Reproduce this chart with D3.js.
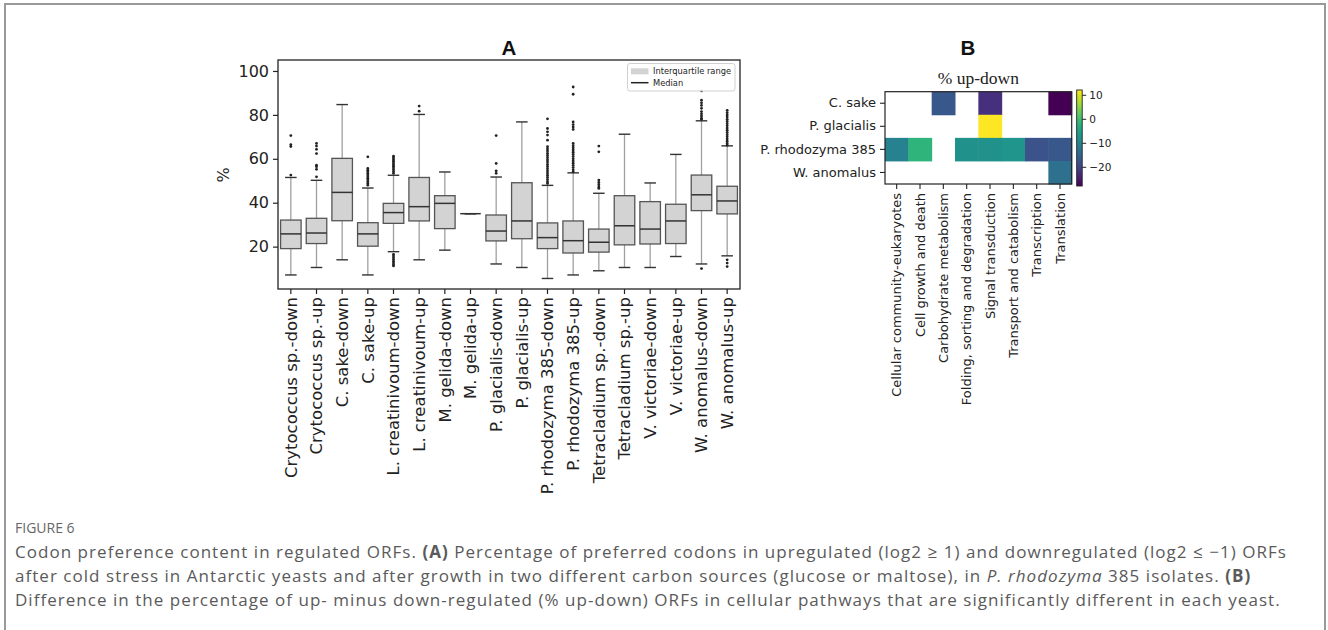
<!DOCTYPE html>
<html><head><meta charset="utf-8">
<script src="https://cdn.jsdelivr.net/npm/d3@7"></script>
<style>body{margin:0;background:#fff}svg{display:block}</style>
</head><body>
<svg id="chart" width="1328" height="630"></svg>
<script>
// ---------- Panel A data ----------
const categories = ["Crytococcus sp.-down","Crytococcus sp.-up","C. sake-down","C. sake-up",
 "L. creatinivoum-down","L. creatinivoum-up","M. gelida-down","M. gelida-up",
 "P. glacialis-down","P. glacialis-up","P. rhodozyma 385-down","P. rhodozyma 385-up",
 "Tetracladium sp.-down","Tetracladium sp.-up","V. victoriae-down","V. victoriae-up",
 "W. anomalus-down","W. anomalus-up"];
const q1Values     = [19.1,21.4,31.8,20.2,30.6,31.7,28.2,35,22.6,23.6,19.1,17.1,17.5,20.8,21.2,21.4,36.4,34.9];
const medianValues = [25.8,26.2,44.7,25.8,35.5,38.2,39.7,35,27.1,31.7,24.1,22.7,22.0,29.5,28.0,31.7,43.6,40.8];
const q3Values     = [32.1,32.9,60.2,30.9,39.7,51.5,43.2,35,34.4,49.1,30.8,31.7,28.0,43.2,40.5,39.3,52.6,47.5];
const whiskerLow   = [7.1,10.5,14.0,7.1,17.7,14.0,18.4,35,12.1,10.5,5.5,7.1,9.0,10.5,10.5,15.5,12.1,15.8];
const whiskerHigh  = [51.5,50.2,84.7,46.7,52.5,80.2,54.0,35,51.7,76.8,47.9,53.6,44.3,71.2,49.0,62.0,77.3,65.9];
const outliers = [
 [70.6,66.5,65.6,52.6],
 [67,65.8,64.3,62.4,57.1,56.4,55.2,51.8],
 [],
 [60.9,55.6,54.8,54.1,53.3,52.6,51.8,51.1,50.3,49.5,48.8,48.0],
 [61.2,60.4,59.6,58.9,58.1,57.3,56.6,55.8,55.0,54.2,53.4,16.5,15.7,14.9,14.1,13.3,12.5,11.7,11.2],
 [84.0,81.7],
 [],
 [],
 [70.6,57.9,54.5,53.4],
 [],
 [78.2,73.8,72.3,70.8,68.5,65.5,64.5,63.5,62.5,61.5,60.5,59.5,58.5,57.5,56.5,55.5,54.5,53.5,52.5,51.5,50.5,49.5,48.8],
 [92.7,89.4,76.8,75.6,74.5,73.4,67.0,66.0,65.0,64.0,63.0,62.0,61.0,60.0,59.0,58.0,57.0,56.0,55.0,54.1],
 [65.8,63.2,50.3,49.2,48.2,47.2,46.5],
 [],
 [],
 [],
 [90.9,86.7,85.5,84.3,83.0,81.5,80.5,79.5,78.5,77.9,10.0],
 [82.1,81.0,80.0,79.0,78.0,77.0,76.0,75.0,74.0,73.0,72.0,71.0,70.0,69.0,68.0,67.0,66.2,14.0,12.5,10.9]
];
const yTicks = [20,40,60,80,100];

// ---------- Panel B data ----------
const species = ["C. sake","P. glacialis","P. rhodozyma 385","W. anomalus"];
const pathways = ["Cellular community-eukaryotes","Cell growth and death","Carbohydrate metabolism",
 "Folding, sorting and degradation","Signal transduction","Transport and catabolism","Transcription","Translation"];
const rowCSake      = [null,null,-17.2,null,-22.4,null,null,-28];
const rowPGlacialis = [null,null,null,null,12,null,null,null];
const rowPRhodozyma = [-10.4,-2,null,-8,-8,-7.2,-18,-17.2];
const rowWAnomalus  = [null,null,null,null,null,null,null,-13.2];
const colorbarTicks = [10,0,-10,-20];

// ---------- Caption ----------
const captionHead = "FIGURE 6";

const svg = d3.select("#chart");
svg.append("rect").attr("width",1328).attr("height",630).attr("fill","#fff");
svg.append("rect").attr("x",5).attr("y",4).attr("width",1320).attr("height",700)
  .attr("fill","none").attr("stroke","#999").attr("stroke-width",2);

const FONT = "DejaVu Sans, sans-serif";

// ===== Panel A =====
const A = {l:278, r:740, t:60, b:289};
const x = d3.scaleBand().domain(categories).range([A.l, A.r]).padding(0);
const y = d3.scaleLinear().domain([0.7, 105]).range([A.b, A.t]);
const gA = svg.append("g");

const bw = x.bandwidth()*0.8;
const capW = x.bandwidth()*0.45;
categories.forEach((c,i)=>{
  const cx = x(c) + x.bandwidth()/2;
  const g = gA.append("g");
  g.append("line").attr("x1",cx).attr("x2",cx).attr("y1",y(whiskerHigh[i])).attr("y2",y(q3Values[i]))
    .attr("stroke","#a0a0a0").attr("stroke-width",1.3);
  g.append("line").attr("x1",cx).attr("x2",cx).attr("y1",y(q1Values[i])).attr("y2",y(whiskerLow[i]))
    .attr("stroke","#a0a0a0").attr("stroke-width",1.3);
  [whiskerHigh[i], whiskerLow[i]].forEach(v=>{
    g.append("line").attr("x1",cx-capW/2).attr("x2",cx+capW/2).attr("y1",y(v)).attr("y2",y(v))
      .attr("stroke","#333").attr("stroke-width",1.4);
  });
  g.append("rect").attr("x",cx-bw/2).attr("width",bw)
    .attr("y",y(q3Values[i])).attr("height",Math.max(0,y(q1Values[i])-y(q3Values[i])))
    .attr("fill","#d3d3d3").attr("stroke","#555").attr("stroke-width",1.3);
  g.append("line").attr("x1",cx-bw/2).attr("x2",cx+bw/2).attr("y1",y(medianValues[i])).attr("y2",y(medianValues[i]))
    .attr("stroke","#333").attr("stroke-width",1.5);
  outliers[i].forEach(v=>{
    g.append("circle").attr("cx",cx).attr("cy",y(v)).attr("r",1.4).attr("fill","#222");
  });
});

const yAxis = gA.append("g").attr("transform",`translate(${A.l},0)`)
  .call(d3.axisLeft(y).tickValues(yTicks).tickSize(5).tickPadding(4));
yAxis.select(".domain").remove();
yAxis.selectAll("text").attr("font-family",FONT).attr("font-size",16).attr("fill","#222");
yAxis.selectAll("line").attr("stroke","#222").attr("stroke-width",1.2);

const xAxis = gA.append("g").attr("transform",`translate(0,${A.b})`)
  .call(d3.axisBottom(x).tickSize(5).tickPadding(4));
xAxis.select(".domain").remove();
xAxis.selectAll("line").attr("stroke","#222").attr("stroke-width",1.2);
xAxis.selectAll("text").attr("font-family",FONT).attr("font-size",16.5).attr("fill","#222")
  .attr("transform","rotate(-90)").attr("text-anchor","end")
  .attr("x",-8).attr("y",0).attr("dy","0.35em");

gA.append("rect").attr("x",A.l).attr("y",A.t).attr("width",A.r-A.l).attr("height",A.b-A.t)
  .attr("fill","none").attr("stroke","#222").attr("stroke-width",1.3);

gA.append("text").attr("transform","translate(229,175) rotate(-90)").attr("text-anchor","middle")
  .attr("font-family",FONT).attr("font-size",16).attr("fill","#222").text("%");

gA.append("text").attr("x",(A.l+A.r)/2).attr("y",55).attr("text-anchor","middle")
  .attr("font-family","Liberation Sans, Arial, sans-serif").attr("font-weight","bold").attr("font-size",20.5)
  .attr("fill","#111").text("A");

// legend
const lg = gA.append("g");
lg.append("rect").attr("x",627.5).attr("y",63.5).attr("width",107.5).attr("height",27.5).attr("rx",2.5)
  .attr("fill","#fff").attr("fill-opacity",0.85).attr("stroke","#d0d0d0").attr("stroke-width",1);
lg.append("rect").attr("x",631).attr("y",68.3).attr("width",17.5).attr("height",6).attr("fill","#d3d3d3");
lg.append("line").attr("x1",631).attr("x2",648.5).attr("y1",82.7).attr("y2",82.7).attr("stroke","#222").attr("stroke-width",1.5);
lg.append("text").attr("x",653).attr("y",71.4).attr("dy","0.35em").attr("font-family",FONT).attr("font-size",8.3)
  .attr("fill","#222").text("Interquartile range");
lg.append("text").attr("x",653).attr("y",82.9).attr("dy","0.35em").attr("font-family",FONT).attr("font-size",8.3)
  .attr("fill","#222").text("Median");

// ===== Panel B =====
const B = {l:885, r:1071.7, t:91.7, b:184};
const xh = d3.scaleBand().domain(pathways).range([B.l,B.r]);
const yh = d3.scaleBand().domain(species).range([B.t,B.b]);
const heatRows = [rowCSake,rowPGlacialis,rowPRhodozyma,rowWAnomalus];
const allVals = heatRows.flat().filter(v=>v!==null);
const vmin = d3.min(allVals), vmax = d3.max(allVals);
const color = d3.scaleSequential(d3.interpolateViridis).domain([vmin,vmax]);
const gB = svg.append("g");
heatRows.forEach((row,ri)=>{
  row.forEach((v,ci)=>{
    if(v===null) return;
    gB.append("rect").attr("x",xh(pathways[ci])).attr("y",yh(species[ri]))
      .attr("width",xh.bandwidth()+0.5).attr("height",yh.bandwidth()+0.5).attr("fill",color(v));
  });
});
gB.append("rect").attr("x",B.l).attr("y",B.t).attr("width",B.r-B.l).attr("height",B.b-B.t)
  .attr("fill","none").attr("stroke","#222").attr("stroke-width",1.2);

const yhAxis = gB.append("g").attr("transform",`translate(${B.l},0)`)
  .call(d3.axisLeft(yh).tickSize(5).tickPadding(4));
yhAxis.select(".domain").remove();
yhAxis.selectAll("line").attr("stroke","#222").attr("stroke-width",1.1);
yhAxis.selectAll("text").attr("font-family",FONT).attr("font-size",13).attr("fill","#222");

const xhAxis = gB.append("g").attr("transform",`translate(0,${B.b})`)
  .call(d3.axisBottom(xh).tickSize(5).tickPadding(4));
xhAxis.select(".domain").remove();
xhAxis.selectAll("line").attr("stroke","#222").attr("stroke-width",1.1);
xhAxis.selectAll("text").attr("font-family",FONT).attr("font-size",13).attr("fill","#222")
  .attr("transform","rotate(-90)").attr("text-anchor","end").attr("x",-9).attr("y",0).attr("dy","0.35em");

gB.append("text").attr("x",(B.l+B.r)/2).attr("y",83.5).attr("text-anchor","middle")
  .attr("font-family","Liberation Serif, Times New Roman, serif").attr("font-size",17.5).attr("fill","#222")
  .text("% up-down");
gB.append("text").attr("x",968).attr("y",55).attr("text-anchor","middle")
  .attr("font-family","Liberation Sans, Arial, sans-serif").attr("font-weight","bold").attr("font-size",20.5)
  .attr("fill","#111").text("B");

// colorbar
const cb = {x:1076.7, w:5.5, t:90, b:186};
const cy = d3.scaleLinear().domain([vmin,vmax]).range([cb.b,cb.t]);
const defs = svg.append("defs");
const grad = defs.append("linearGradient").attr("id","vir").attr("x1","0").attr("y1","1").attr("x2","0").attr("y2","0");
d3.range(0,1.0001,0.05).forEach(t=>{
  grad.append("stop").attr("offset",t).attr("stop-color",d3.interpolateViridis(t));
});
gB.append("rect").attr("x",cb.x).attr("y",cb.t).attr("width",cb.w).attr("height",cb.b-cb.t)
  .attr("fill","url(#vir)").attr("stroke","#222").attr("stroke-width",0.9);
const cbAxis = gB.append("g").attr("transform",`translate(${cb.x+cb.w},0)`)
  .call(d3.axisRight(cy).tickValues(colorbarTicks).tickSize(4).tickPadding(3).tickFormat(d3.format("")));
cbAxis.select(".domain").remove();
cbAxis.selectAll("line").attr("stroke","#222");
cbAxis.selectAll("text").attr("font-family",FONT).attr("font-size",10.5).attr("fill","#222")
  .text(d=> d<0 ? "\u2212"+Math.abs(d) : String(d));

// ===== Caption =====
const cap = svg.append("g").attr("font-family","Open Sans, Lato, sans-serif").attr("fill","#5a5a5a");
cap.append("text").attr("x",15).attr("y",533).attr("font-size",14).attr("fill","#666").text(captionHead);
const capLines = [];
function line(yPos, parts){
  const t = cap.append("text").attr("x",15).attr("y",yPos).attr("font-size",17);
  parts.forEach(p=>{
    const s = t.append("tspan").text(p[0]);
    if(p[1]==="b") s.attr("font-weight","bold");
    if(p[1]==="i") s.attr("font-style","italic");
  });
  capLines.push(t);
  return t;
}
line(558,[["Codon preference content in regulated ORFs. "],["(A)","b"],[" Percentage of preferred codons in upregulated (log2 \u2265 1) and downregulated (log2 \u2264 \u22121) ORFs"]]);
line(582,[["after cold stress in Antarctic yeasts and after growth in two different carbon sources (glucose or maltose), in "],["P. rhodozyma","i"],[" 385 isolates. "],["(B)","b"]]);
line(606,[["Difference in the percentage of up- minus down-regulated (% up-down) ORFs in cellular pathways that are significantly different in each yeast."]]);
// letter-spacing so the first line spans the same width as in the figure
const t0 = capLines[0];
const w0 = t0.node().getComputedTextLength();
const nChars = t0.text().length;
const ls = (1272 - w0) / nChars;
capLines.forEach(t=>t.attr("letter-spacing", ls));
</script>
</body></html>
